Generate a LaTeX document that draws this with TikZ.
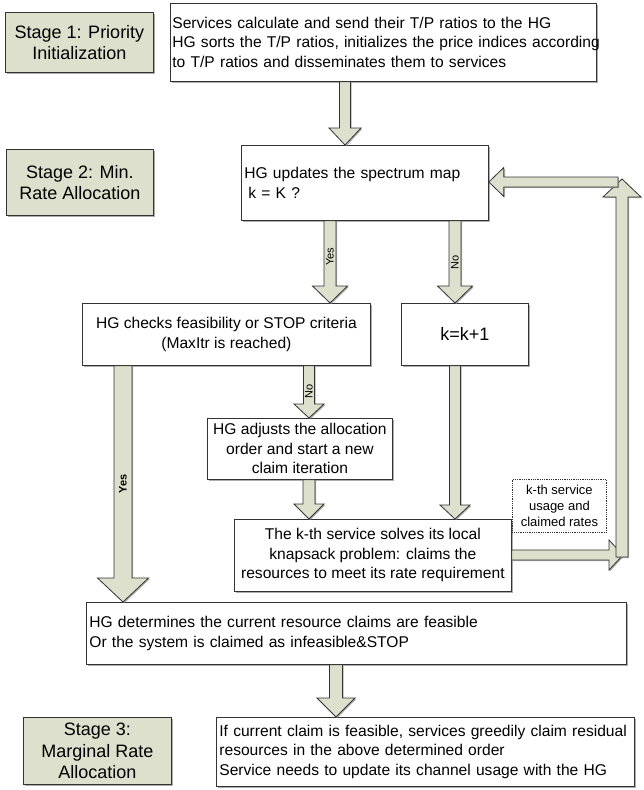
\documentclass[tikz,border=0pt]{standalone}
\usepackage{fontspec}
\setmainfont{Liberation Sans}
\usetikzlibrary{calc,shadows}
\definecolor{stagefill}{HTML}{DDE0CC}
\definecolor{lnc}{HTML}{333333}
\newcommand\fnorm{\fontsize{15.6}{19.5}\selectfont}
\newcommand\fbig{\fontsize{18}{21.5}\selectfont}
\newcommand\fsmall{\fontsize{13}{16}\selectfont}
\newcommand\flbl{\fontsize{11}{13}\selectfont}
\newcommand\oneline[1]{\mbox{#1}}
% block arrows: #1 start, #2 tip, #3 shaft half width, #4 head half width, #5 head length
\newcommand\bdown[5]{\draw[blk] let \p1=(#1), \p2=(#2) in
  (\x1-#3pt,\y1) -- (\x1-#3pt,\y2+#5pt) -- (\x1-#4pt,\y2+#5pt) -- (\x1,\y2) --
  (\x1+#4pt,\y2+#5pt) -- (\x1+#3pt,\y2+#5pt) -- (\x1+#3pt,\y1) -- cycle;}
\newcommand\bup[5]{\draw[blk] let \p1=(#1), \p2=(#2) in
  (\x1-#3pt,\y1) -- (\x1-#3pt,\y2-#5pt) -- (\x1-#4pt,\y2-#5pt) -- (\x1,\y2) --
  (\x1+#4pt,\y2-#5pt) -- (\x1+#3pt,\y2-#5pt) -- (\x1+#3pt,\y1) -- cycle;}
\newcommand\bleft[5]{\draw[blk] let \p1=(#1), \p2=(#2) in
  (\x1,\y1+#3pt) -- (\x2+#5pt,\y1+#3pt) -- (\x2+#5pt,\y1+#4pt) -- (\x2,\y1) --
  (\x2+#5pt,\y1-#4pt) -- (\x2+#5pt,\y1-#3pt) -- (\x1,\y1-#3pt) -- cycle;}
\newcommand\bright[5]{\draw[blk] let \p1=(#1), \p2=(#2) in
  (\x1,\y1+#3pt) -- (\x2-#5pt,\y1+#3pt) -- (\x2-#5pt,\y1+#4pt) -- (\x2,\y1) --
  (\x2-#5pt,\y1-#4pt) -- (\x2-#5pt,\y1-#3pt) -- (\x1,\y1-#3pt) -- cycle;}
\tikzset{
  shd/.style={drop shadow={shadow xshift=1.2pt,shadow yshift=-1.2pt,fill=black!45,opacity=0.7}},
  bx/.style={draw=lnc, line width=0.8pt, fill=white, shd, inner xsep=3pt, inner ysep=0pt,
             anchor=north west, font=\fnorm},
  lbox/.style={bx, align=left},
  cbox/.style={bx, align=center},
  stg/.style={bx, fill=stagefill, align=center, font=\fbig},
  blk/.style={draw=lnc, line width=0.8pt, fill=stagefill, shd, line join=miter},
  lbl/.style={font=\flbl, inner sep=0pt, rotate=90},
}
\begin{document}
\begin{tikzpicture}[x=1pt,y=-1pt]
\useasboundingbox (0,0) rectangle (644,790);
\fill[white] (0,0) rectangle (644,790);

% stage labels
\node[stg, minimum width=148pt, minimum height=60pt] (s1) at (5,12) {Stage 1: Priority\\Initialization};
\node[stg, minimum width=147pt, minimum height=66pt] (s2) at (6,149) {Stage 2: Min.\\Rate Allocation};
\node[stg, minimum width=148pt, minimum height=67pt] (s3) at (23,717) {Stage 3:\\Marginal Rate\\Allocation};

% process boxes
\node[lbox, inner xsep=2pt, text width=422pt, minimum height=78pt] (top) at (170,3)
  {\oneline{Services calculate and send their T/P ratios to the HG}\\
   \oneline{HG sorts the T/P ratios, initializes the price indices according}\\
   \oneline{to T/P ratios and disseminates them to services}};
\node[lbox, text width=241pt, minimum height=75pt] (upd) at (241,145)
  {\oneline{HG updates the spectrum map}\\\oneline{\hspace*{4pt}k = K ?}};
\node[cbox, minimum width=288pt, minimum height=62pt] (chk) at (82,303)
  {HG checks feasibility or STOP criteria\\(MaxItr is reached)};
\node[cbox, font=\fbig, minimum width=127pt, minimum height=62pt] (kk) at (401,303) {k=k+1};
\node[cbox, minimum width=185pt, minimum height=61pt] (adj) at (207,418)
  {HG adjusts the allocation\\order and start a new\\claim iteration};
\node[cbox, minimum width=277pt, minimum height=72pt] (kth) at (234,519)
  {The k-th service solves its local\\knapsack problem: claims the\\resources to meet its rate requirement};
\node[draw=lnc, densely dotted, line width=0.8pt, align=center, font=\fsmall, anchor=north west,
      inner sep=0pt, minimum width=94pt, minimum height=53pt] (dot) at (512,479)
  {k-th service\\usage and\\claimed rates};
\node[lbox, text width=534pt, minimum height=62pt] (det) at (86,602)
  {\oneline{HG determines the current resource claims are feasible}\\
   \oneline{Or the system is claimed as infeasible\&STOP}};
\node[lbox, text width=412pt, minimum height=69pt] (fin) at (216,717)
  {\oneline{If current claim is feasible, services greedily claim residual}\\
   \oneline{resources in the above determined order}\\
   \oneline{Service needs to update its channel usage with the HG}};

% arrow axes
\coordinate (a1) at (345,0);
\coordinate (ay) at (330,0);
\coordinate (an) at (455,0);
\coordinate (ab) at (123,0);
\coordinate (an2) at (309,0);
\coordinate (ad) at (336,0);
\coordinate (ry) at (0,555);
\coordinate (rtip) at (623,555);
\coordinate (vb) at (622,557);
\coordinate (vt) at (622,179);
\coordinate (ls) at (618,182);

% block arrows
\bdown{top.south -| a1}{upd.north -| a1}{5.5}{16}{17}
\bdown{upd.south -| ay}{chk.north -| ay}{6}{17.5}{17}
\bdown{upd.south -| an}{kk.north -| an}{6}{17.5}{17}
\bdown{chk.south -| ab}{det.north -| ab}{9}{25.5}{24}
\bdown{chk.south -| an2}{adj.north -| an2}{5.5}{15}{14}
\bdown{adj.south -| an2}{kth.north -| an2}{6}{15}{15}
\bdown{kk.south -| an}{kth.north -| an}{5.5}{15}{14}
\bdown{det.south -| ad}{fin.north -| ad}{6.5}{19}{19}
\bright{kth.east |- ry}{rtip}{5}{15}{14}
\bup{vb}{vt}{6}{19}{18}
\bleft{ls}{upd.east |- ls}{5}{14.5}{15}

% arrow labels
\node[lbl] (lyes) at (330,257) {Yes};
\node[lbl] (lno) at (455,262) {No};
\node[lbl] (lno2) at (309,391) {No};
\node[lbl, font=\flbl\bfseries] (lyes2) at (123,484) {Yes};
\end{tikzpicture}
\end{document}
